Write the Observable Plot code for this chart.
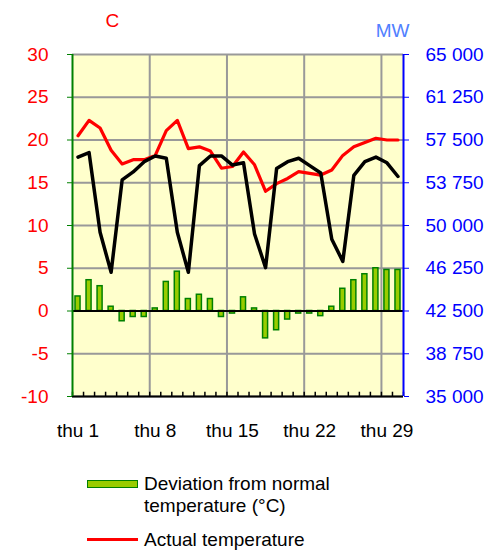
<!DOCTYPE html>
<html><head><meta charset="utf-8">
<script src="https://cdn.jsdelivr.net/npm/d3@7"></script>
<script src="https://cdn.jsdelivr.net/npm/@observablehq/plot@0.6"></script>
<style>
body{margin:0;background:#fff;font-family:"Liberation Sans",Arial,sans-serif;}
#wrap{position:relative;width:501px;height:551px;overflow:hidden;}
.leg{position:absolute;font-size:19px;color:#000;line-height:22px;white-space:nowrap;}
.sw{position:absolute;box-sizing:border-box;}
</style></head><body>
<div id="wrap"><div id="chart"></div>
<div class="sw" style="left:87px;top:480px;width:51px;height:8px;background:#99CC00;border:1.5px solid #008000;"></div>
<div class="leg" style="left:144px;top:473px;">Deviation from normal<br>temperature (°C)</div>
<div class="sw" style="left:87px;top:538px;width:51px;height:3px;background:#FF0000;"></div>
<div class="leg" style="left:144px;top:529px;">Actual temperature</div>
</div>
<script>
const days = [1,2,3,4,5,6,7,8,9,10,11,12,13,14,15,16,17,18,19,20,21,22,23,24,25,26,27,28,29,30];
const deviation = [1.7,3.6,2.9,0.5,-1.2,-0.7,-0.7,0.3,3.4,4.6,1.4,1.9,1.4,-0.7,-0.3,1.6,0.3,-3.2,-2.25,-1.0,-0.3,-0.3,-0.6,0.5,2.6,3.6,4.3,5.0,4.8,4.8];
const actual = [20.5,22.3,21.4,18.8,17.2,17.7,17.7,18.2,21.1,22.3,19.0,19.2,18.7,16.7,16.9,18.6,17.1,14.0,14.9,15.5,16.3,16.1,15.9,16.5,18.2,19.2,19.7,20.2,20.0,20.0];
const load = [56000,56400,49400,45900,54000,54700,55600,56100,55900,49400,45900,55250,56100,56100,55300,55500,49250,46300,55000,55600,55900,55250,54600,48800,46850,54400,55600,56000,55500,54300];
const tempTicks = [-10,-5,0,5,10,15,20,25,30];
const weekStarts = [8,15,22,29];
const xTickDays = [1,8,15,22,29];
const xTickLabels = ["thu 1","thu 8","thu 15","thu 22","thu 29"];
const boundaries = [1,2,3,4,5,6,7,8,9,10,11,12,13,14,15,16,17,18,19,20,21,22,23,24,25,26,27,28,29,30,31];

// right axis (MW) is linked to the temperature axis: 0 °C ↔ 42 500 MW, 5 °C ↔ 3 750 MW
const mwAt0 = 42500, mwPerDeg = 750;
const toTemp = mw => (mw - mwAt0) / mwPerDeg;
const fmtMW = t => d3.format(",")(mwAt0 + mwPerDeg * t).replace(/,/g, " ");

const chart = Plot.plot({
  width: 501, height: 460,
  marginLeft: 72, marginRight: 98, marginTop: 54, marginBottom: 64,
  style: {fontFamily: "Liberation Sans, Arial, sans-serif", fontSize: "19px", background: "transparent", overflow: "visible"},
  x: {domain: [0.5, 30.5]},
  y: {domain: [-10, 30]},
  marks: [
    Plot.frame({fill: "#FFFFCC", stroke: null}),
    Plot.ruleY(tempTicks, {stroke: "#999999", strokeWidth: 2}),
    Plot.ruleX(weekStarts, {x: d => d - 0.5, stroke: "#999999", strokeWidth: 2}),
    Plot.rectY(days, {x1: d => d - 0.5, x2: d => d + 0.5, y1: 0, y2: (d, i) => deviation[i],
      insetLeft: 3, insetRight: 3, fill: "#99CC00", stroke: "#008000", strokeWidth: 1.5}),
    Plot.ruleY([0], {stroke: "#000", strokeWidth: 2}),
    Plot.ruleY([-10], {stroke: "#000", strokeWidth: 2}),
    Plot.ruleX(boundaries, {x: d => d - 0.5, y1: -10, y2: -9.5, stroke: "#000", strokeWidth: 1.5}),
    Plot.line(days, {x: d => d, y: (d, i) => actual[i], stroke: "#FF0000", strokeWidth: 3.2}),
    Plot.line(days, {x: d => d, y: (d, i) => toTemp(load[i]), stroke: "#000", strokeWidth: 3.5}),
    Plot.ruleX([0.5], {stroke: "#008000", strokeWidth: 2}),
    Plot.ruleX([30.5], {stroke: "#0000FF", strokeWidth: 2}),
    Plot.axisY(tempTicks, {anchor: "left", tickSize: 5, tickPadding: 19, stroke: "#008000", fill: "#FF0000", label: null, tickFormat: d => String(d)}),
    Plot.axisY(tempTicks, {anchor: "right", tickSize: 5, tickPadding: 17, stroke: "#0000FF", fill: "#0000FF", label: null, tickFormat: fmtMW}),
    Plot.axisX(xTickDays, {anchor: "bottom", tickSize: 0, tickPadding: 27, label: null, tickFormat: (d, i) => xTickLabels[i], fill: "#000"}),
    Plot.text(["C"], {frameAnchor: "top-left", dx: 33, dy: -41, fill: "#FF0000", fontSize: 19}),
    Plot.text(["MW"], {frameAnchor: "top-right", dx: 6, dy: -31, fill: "#5080FF", fontSize: 19})
  ]
});
document.getElementById("chart").appendChild(chart);
</script>
</body></html>
